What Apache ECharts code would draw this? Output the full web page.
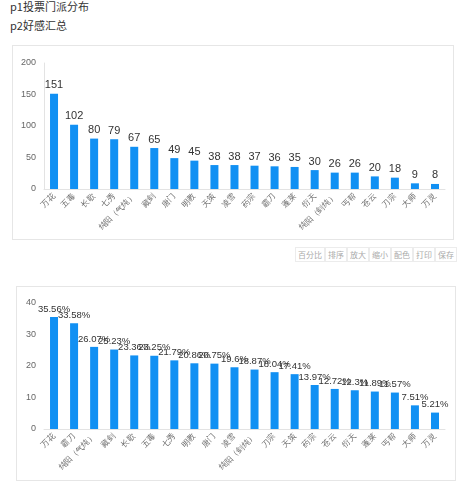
<!DOCTYPE html>
<html>
<head>
	<meta charset="UTF-8">
	<title>p1 p2</title>
	<script src="https://cdn.jsdelivr.net/npm/echarts@6/dist/echarts.min.js"></script>
	<style>
		body { margin: 0; background: #fff; font-family: "Noto Sans CJK SC", sans-serif; }
		.line { position: absolute; left: 10px; font-size: 11px; color: #333; }
		.panel { position: absolute; border: 1px solid #e6e6e6; background: #fff; }
		.chart { width: 100%; height: 100%; }
		.toolbar { position: absolute; left: 295px; top: 247px; font-size: 0; white-space: nowrap; }
		.toolbar span { display: inline-block; font-size: 8px; color: #aaa; border: 1px solid #ececec; padding: 1px 2px; line-height: 11px; }
	</style>
</head>
<body>

<div class="line" style="top:-2px;">p1投票门派分布</div>
<div class="line" style="top:17px;">p2好感汇总</div>

<!--p1 面板-->
<div class="panel" style="left:12px;top:45px;width:440px;height:193px;">
	<div id="chart1" class="chart"></div>
</div>

<!--按钮栏-->
<div class="toolbar">
	<span>百分比</span><span>排序</span><span>放大</span><span>缩小</span><span>配色</span><span>打印</span><span>保存</span>
</div>

<!--p2 面板-->
<div class="panel" style="left:16px;top:286px;width:438px;height:193px;">
	<div id="chart2" class="chart"></div>
</div>

<script type="text/javascript">

	// p1 投票门派分布
	var voteNames = ['万花', '五毒', '长歌', '七秀', '纯阳（气纯）', '藏剑', '唐门', '明教', '天策', '凌雪',
		'药宗', '霸刀', '蓬莱', '衍天', '纯阳（剑纯）', '丐帮', '苍云', '刀宗', '大师', '万灵'];
	var voteValues = [151, 102, 80, 79, 67, 65, 49, 45, 38, 38, 37, 36, 35, 30, 26, 26, 20, 18, 9, 8];

	// p2 好感汇总 (%)
	var likeNames = ['万花', '霸刀', '纯阳（气纯）', '藏剑', '长歌', '五毒', '七秀', '明教', '唐门', '凌雪',
		'纯阳（剑纯）', '刀宗', '天策', '药宗', '苍云', '衍天', '蓬莱', '丐帮', '大师', '万灵'];
	var likeValues = [35.56, 33.58, 26.07, 25.23, 23.36, 23.25, 21.79, 20.86, 20.75, 19.6,
		18.87, 18.04, 17.41, 13.97, 12.72, 12.3, 11.89, 11.57, 7.51, 5.21];

	var barColor = '#1190f3';

	function makeOption(names, values, max, interval, grid, fmt, showYLine) {
		return {
			animation: false,
			grid: grid,
			xAxis: {
				type: 'category',
				data: names,
				axisLine: { lineStyle: { color: '#e3e3e3' } },
				axisTick: { show: false },
				axisLabel: {
					interval: 0,
					rotate: 45,
					fontSize: 8,
					color: '#666',
					margin: 6
				}
			},
			yAxis: {
				type: 'value',
				min: 0,
				max: max,
				interval: interval,
				axisLine: { show: showYLine, lineStyle: { color: '#e3e3e3' } },
				axisTick: { show: false },
				splitLine: { show: false },
				axisLabel: { fontSize: 9, color: '#666', margin: 8 }
			},
			series: [{
				type: 'bar',
				data: values,
				barWidth: 8,
				itemStyle: { color: barColor },
				label: {
					show: true,
					position: 'top',
					color: '#333',
					fontSize: fmt ? 9.5 : 11,
					distance: 3,
					formatter: fmt || '{c}'
				}
			}]
		};
	}

	var chart1 = echarts.init(document.getElementById('chart1'));
	chart1.setOption(makeOption(voteNames, voteValues, 200, 50,
		{ left: 31, right: 8, top: 17, bottom: 50 }, null, true));

	var chart2 = echarts.init(document.getElementById('chart2'));
	chart2.setOption(makeOption(likeNames, likeValues, 40, 10,
		{ left: 27, right: 10, top: 16, bottom: 51 }, '{c}%', false));

</script>
</body>
</html>
